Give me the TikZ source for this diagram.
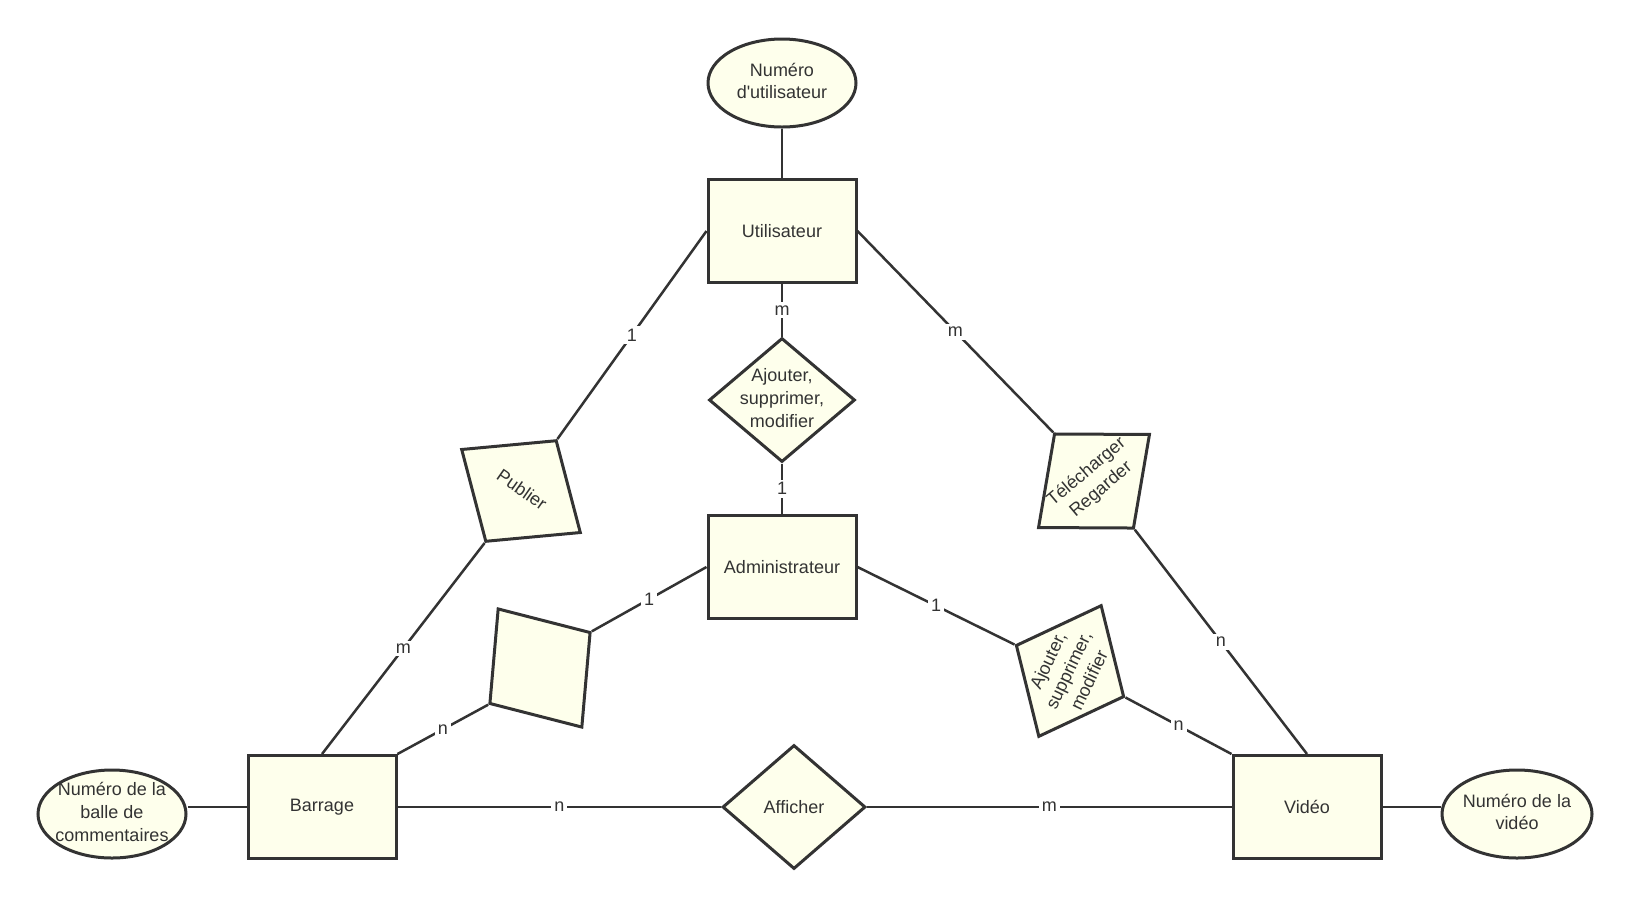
\documentclass[tikz,border=0pt]{standalone}
\usepackage{fontspec}
\setmainfont{Liberation Sans}
\usetikzlibrary{shapes.geometric}
\definecolor{fillc}{RGB}{254,255,236}
\definecolor{linec}{RGB}{51,51,51}
\newcommand{\ztext}[1]{\smash{\makebox[0pt]{\raisebox{-0.25em}{\begin{tabular}{@{}c@{}}#1\end{tabular}}}}}
\tikzset{
  ent/.style={draw=linec, fill=fillc, line width=1.5pt, minimum width=74pt, minimum height=51.5pt, inner sep=0pt},
  attr/.style={ellipse, draw=linec, fill=fillc, line width=1.5pt, inner sep=0pt, minimum width=74pt, minimum height=44pt},
  rel/.style={diamond, draw=linec, fill=fillc, line width=1.5pt, inner sep=0pt, minimum width=73pt, minimum height=62pt},
  conn/.style={draw=linec, line width=1.25pt},
  card/.style={fill=white, inner sep=1.5pt, font=\fontsize{9}{10}\selectfont, text=linec}
}
\begin{document}
\begin{tikzpicture}[x=0.5pt, y=-0.5pt, font=\fontsize{9}{11.4}\selectfont, text=linec]
\fill[white] (0,0) rectangle (1628,907);
\useasboundingbox (0,0) rectangle (1628,907);

% entities
\node[ent] (util) at (782,231) {Utilisateur};
\node[ent] (admin) at (782,567) {Administrateur};
\node[ent] (barr) at (322,807) {Barrage};
\node[ent] (video) at (1307,807) {Vidéo};

% attributes
\node[attr] (uid) at (782,83) {\ztext{Numéro\\d\textquotesingle utilisateur}};
\node[attr] (bid) at (112,814) {\ztext{Numéro de la\\balle de\\commentaires}};
\node[attr, minimum width=75pt] (vid) at (1517,814) {\ztext{Numéro de la\\vidéo}};

% relationships
\node[rel] (asm) at (782,400) {\ztext{Ajouter,\\supprimer,\\modifier}};
\node[rel, minimum width=71.5pt] (aff) at (794,807) {Afficher};
\node[rel, rotate=-35] (pub) at (521,491) {\ztext{Publier}};
\node[rel, rotate=-54.7] (blank) at (540,668) {};
\node[rel, rotate=40] (tel) at (1094,481) {\ztext{Télécharger\\Regarder}};
\node[rel, rotate=64.5, minimum height=60pt] (asm2) at (1070,671) {\ztext{Ajouter,\\supprimer,\\modifier}};

% connectors
\draw[conn] (uid) -- (util);
\draw[conn] (barr.west) -- (barr.west -| bid.east);
\draw[conn] (video.east) -- (video.east -| vid.west);

\draw[conn] (util.south) -- node[card]{m} (asm.north);
\draw[conn] (asm.south) -- node[card]{1} (admin.north);

\draw[conn] (util.west) -- node[card]{1} (pub.north);
\draw[conn] (pub.south) -- node[card]{m} (barr.north);

\draw[conn] (admin.west) -- node[card]{1} (blank.north);
\draw[conn] (blank.south) -- node[card]{n} (barr.north east);

\draw[conn] (util.east) -- node[card]{m} (tel.north);
\draw[conn] (tel.south) -- node[card]{n} (video.north);

\draw[conn] (admin.east) -- node[card]{1} (asm2.north);
\draw[conn] (asm2.south) -- node[card]{n} (video.north west);

\draw[conn] (barr.east) -- node[card]{n} (aff.west);
\draw[conn] (aff.east) -- node[card]{m} (video.west);
\end{tikzpicture}
\end{document}
